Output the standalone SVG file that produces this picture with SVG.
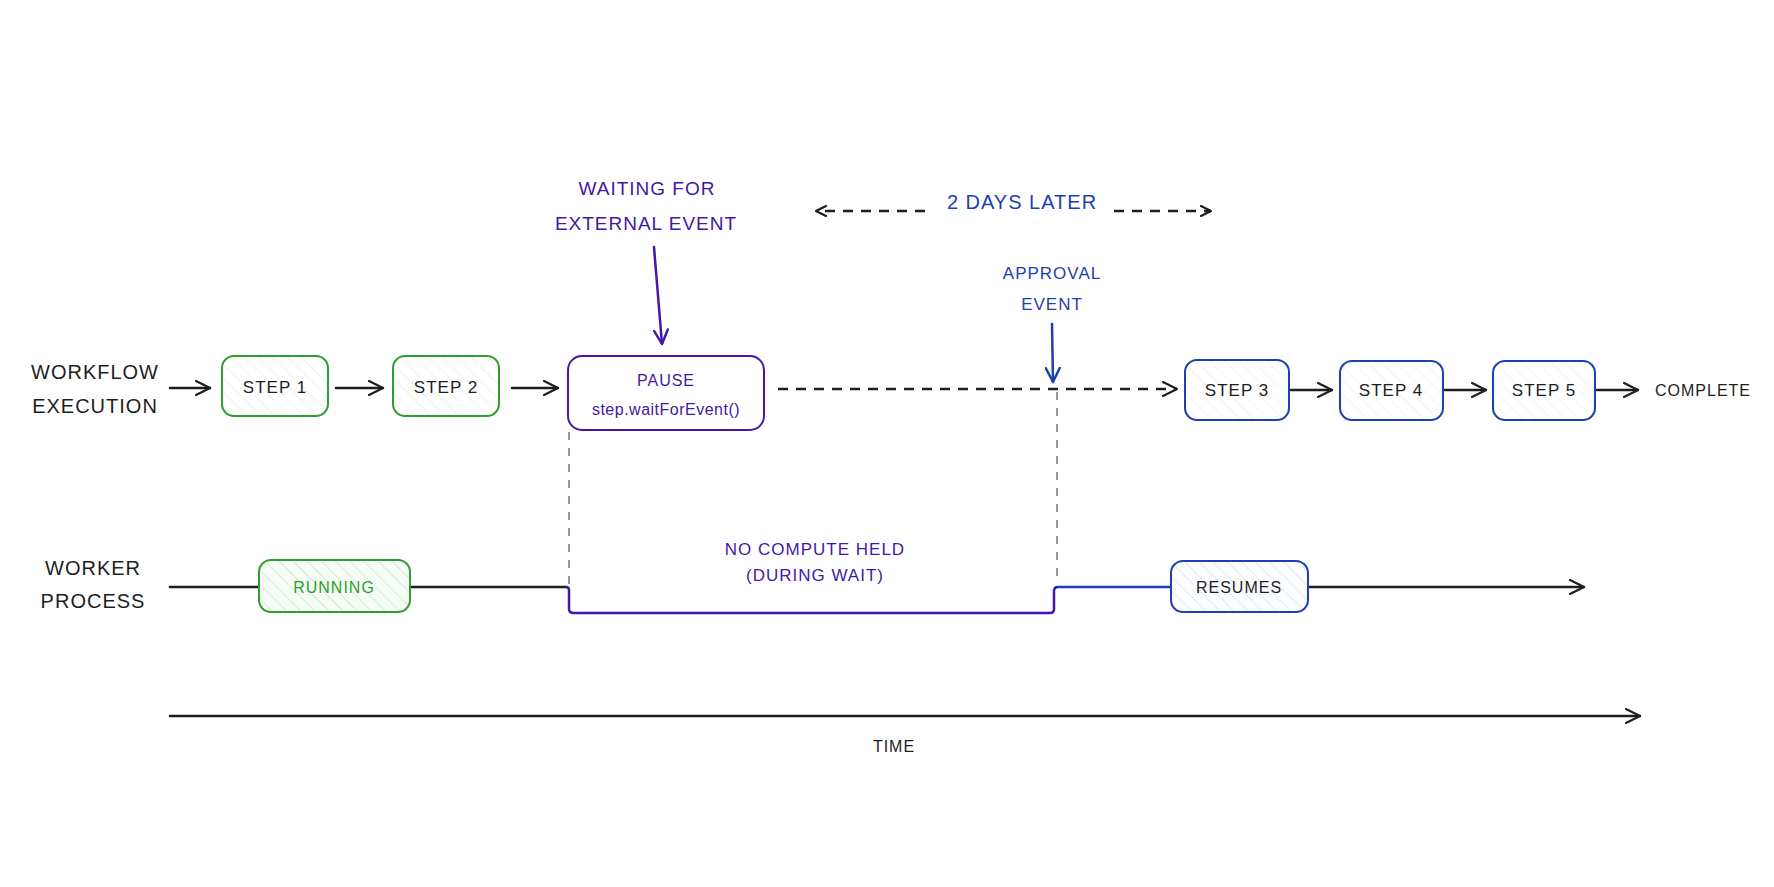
<svg xmlns="http://www.w3.org/2000/svg" width="1774" height="887" viewBox="0 0 1774 887">
<defs>
<style>
.t{font-family:"Liberation Sans","DejaVu Sans",sans-serif;text-anchor:middle;dominant-baseline:central;letter-spacing:1px}
.blk{fill:#1e1e1e}
.pur{fill:#4318a6}
.blu{fill:#1e3fae}
.grn{fill:#2f9e2f}
.ln{fill:none;stroke:#1e1e1e;stroke-width:2.5;stroke-linecap:round}
.dash{fill:none;stroke:#1e1e1e;stroke-width:2.5;stroke-dasharray:10 8}
.gd{fill:none;stroke:#9a9a9a;stroke-width:2;stroke-dasharray:8 8}
</style>
<marker id="ah" viewBox="0 0 12 12" refX="11" refY="6" markerWidth="12" markerHeight="12" markerUnits="userSpaceOnUse" orient="auto">
<path d="M1,1 L11,6 L1,11" fill="none" stroke="#1e1e1e" stroke-width="2.2" stroke-linecap="round" stroke-linejoin="round"/>
</marker>
<marker id="ahL" viewBox="0 0 16 16" refX="15" refY="8" markerWidth="16" markerHeight="16" markerUnits="userSpaceOnUse" orient="auto">
<path d="M1,1 L15,8 L1,15" fill="none" stroke="#1e1e1e" stroke-width="2.2" stroke-linecap="round" stroke-linejoin="round"/>
</marker>
<marker id="ahP" viewBox="0 0 16 16" refX="15" refY="8" markerWidth="16" markerHeight="16" markerUnits="userSpaceOnUse" orient="auto">
<path d="M1,1 L15,8 L1,15" fill="none" stroke="#4318a6" stroke-width="2.4" stroke-linecap="round" stroke-linejoin="round"/>
</marker>
<marker id="ahB" viewBox="0 0 16 16" refX="15" refY="8" markerWidth="16" markerHeight="16" markerUnits="userSpaceOnUse" orient="auto">
<path d="M1,1 L15,8 L1,15" fill="none" stroke="#1e3fae" stroke-width="2.4" stroke-linecap="round" stroke-linejoin="round"/>
</marker>
<pattern id="hg" width="10" height="10" patternUnits="userSpaceOnUse" patternTransform="rotate(-45)">
<rect width="10" height="10" fill="#ffffff"/>
<line x1="0" y1="0" x2="0" y2="10" stroke="#e3f4e3" stroke-width="1.5"/>
</pattern>
<pattern id="hg2" width="10" height="10" patternUnits="userSpaceOnUse" patternTransform="rotate(-45)">
<rect width="10" height="10" fill="#f6fcf6"/>
<line x1="0" y1="0" x2="0" y2="10" stroke="#c4e8c4" stroke-width="1.5"/>
</pattern>
<pattern id="hb" width="10" height="10" patternUnits="userSpaceOnUse" patternTransform="rotate(-45)">
<rect width="10" height="10" fill="#ffffff"/>
<line x1="0" y1="0" x2="0" y2="10" stroke="#eef1f9" stroke-width="1.5"/>
</pattern>
<pattern id="hb2" width="10" height="10" patternUnits="userSpaceOnUse" patternTransform="rotate(-45)">
<rect width="10" height="10" fill="#fcfdff"/>
<line x1="0" y1="0" x2="0" y2="10" stroke="#dde4f4" stroke-width="1.5"/>
</pattern>
</defs>
<rect width="1774" height="887" fill="#ffffff"/>

<g id="labels">
<text class="t blk" x="95" y="372" font-size="20">WORKFLOW</text>
<text class="t blk" x="95" y="406" font-size="20">EXECUTION</text>
<text class="t blk" x="93" y="568" font-size="20">WORKER</text>
<text class="t blk" x="93" y="601" font-size="20">PROCESS</text>
<text class="t pur" x="647" y="188" font-size="19">WAITING FOR</text>
<text class="t pur" x="646" y="223" font-size="19">EXTERNAL EVENT</text>
<text class="t blu" x="1022" y="202" font-size="20">2 DAYS LATER</text>
<text class="t blu" x="1052" y="273" font-size="17">APPROVAL</text>
<text class="t blu" x="1052" y="304" font-size="17">EVENT</text>
<text class="t blk" x="1703" y="390" font-size="16">COMPLETE</text>
<text class="t pur" x="815" y="549" font-size="17">NO COMPUTE HELD</text>
<text class="t pur" x="815" y="575" font-size="17">(DURING WAIT)</text>
<text class="t blk" x="894" y="746" font-size="16">TIME</text>
</g>

<g id="connectors">
<line class="ln" x1="170" y1="388" x2="210" y2="388" marker-end="url(#ahL)"/>
<line class="ln" x1="336" y1="388" x2="383" y2="388" marker-end="url(#ahL)"/>
<line class="ln" x1="512" y1="388" x2="558" y2="388" marker-end="url(#ahL)"/>
<path d="M654,247 L662,344" fill="none" stroke="#4318a6" stroke-width="2.5" stroke-linecap="round" marker-end="url(#ahP)"/>
<line class="dash" x1="778" y1="389" x2="1177" y2="389" marker-end="url(#ahL)"/>
<line class="dash" x1="925" y1="211" x2="816" y2="211" marker-end="url(#ah)"/>
<line class="dash" x1="1114" y1="211" x2="1211" y2="211" marker-end="url(#ah)"/>
<line x1="1052" y1="324" x2="1053" y2="382" stroke="#1e3fae" stroke-width="2.5" stroke-linecap="round" marker-end="url(#ahB)"/>
<line class="ln" x1="1291" y1="390" x2="1332" y2="390" marker-end="url(#ahL)"/>
<line class="ln" x1="1445" y1="390" x2="1486" y2="390" marker-end="url(#ahL)"/>
<line class="ln" x1="1597" y1="390" x2="1638" y2="390" marker-end="url(#ahL)"/>
<line class="gd" x1="569" y1="432" x2="569" y2="584"/>
<line class="gd" x1="1057" y1="392" x2="1057" y2="584"/>
<line class="ln" x1="170" y1="587" x2="259" y2="587"/>
<line class="ln" x1="410" y1="587" x2="566" y2="587"/>
<path d="M566,587 Q569,587 569,590 L569,609 Q569,613 574,613 L1050,613 Q1054,613 1054,609 L1054,591 Q1054,587 1058,587" fill="none" stroke="#4318a6" stroke-width="2.5"/>
<line x1="1058" y1="587" x2="1171" y2="587" stroke="#1e3fae" stroke-width="2.5"/>
<line class="ln" x1="1308" y1="587" x2="1584" y2="587" marker-end="url(#ahL)"/>
<line class="ln" x1="170" y1="716" x2="1640" y2="716" marker-end="url(#ahL)"/>
</g>

<g id="step1">
<rect x="222" y="356" width="106" height="60" rx="12" fill="url(#hg)" stroke="#2f9e2f" stroke-width="2"/>
<text class="t blk" x="275" y="387" font-size="17">STEP 1</text>
</g>
<g id="step2">
<rect x="393" y="356" width="106" height="60" rx="12" fill="url(#hg)" stroke="#2f9e2f" stroke-width="2"/>
<text class="t blk" x="446" y="387" font-size="17">STEP 2</text>
</g>
<g id="pause">
<rect x="568" y="356" width="196" height="74" rx="14" fill="#ffffff" stroke="#4318a6" stroke-width="2"/>
<text class="t pur" x="666" y="380" font-size="16">PAUSE</text>
<text class="t pur" x="666" y="409" font-size="16" style="letter-spacing:0.5px">step.waitForEvent()</text>
</g>
<g id="step3">
<rect x="1185" y="360" width="104" height="60" rx="12" fill="url(#hb)" stroke="#1e3fae" stroke-width="2"/>
<text class="t blk" x="1237" y="390" font-size="17">STEP 3</text>
</g>
<g id="step4">
<rect x="1340" y="361" width="103" height="59" rx="12" fill="url(#hb)" stroke="#1e3fae" stroke-width="2"/>
<text class="t blk" x="1391" y="390" font-size="17">STEP 4</text>
</g>
<g id="step5">
<rect x="1493" y="361" width="102" height="59" rx="12" fill="url(#hb)" stroke="#1e3fae" stroke-width="2"/>
<text class="t blk" x="1544" y="390" font-size="17">STEP 5</text>
</g>
<g id="running">
<rect x="259" y="560" width="151" height="52" rx="12" fill="url(#hg2)" stroke="#2f9e2f" stroke-width="2"/>
<text class="t grn" x="334" y="587" font-size="16">RUNNING</text>
</g>
<g id="resumes">
<rect x="1171" y="561" width="137" height="51" rx="12" fill="url(#hb2)" stroke="#1e3fae" stroke-width="2"/>
<text class="t blk" x="1239" y="587" font-size="16">RESUMES</text>
</g>
</svg>
